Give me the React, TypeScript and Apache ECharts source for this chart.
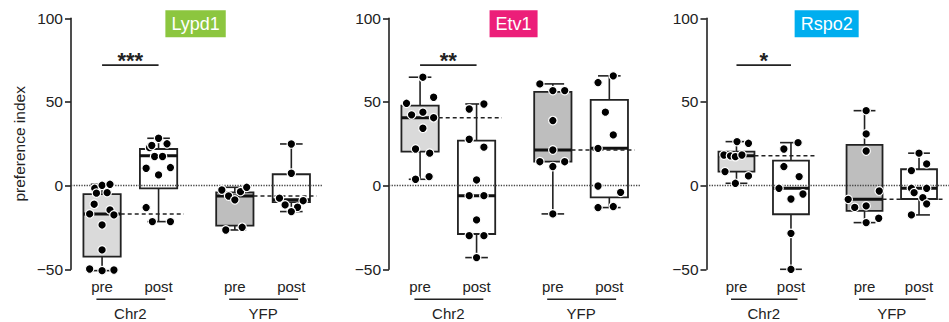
import React, { useEffect, useRef } from 'react';
import * as echarts from 'echarts';

// ---------- data ----------
const panelNames = ['Lypd1', 'Etv1', 'Rspo2'];
const significance = ['***', '**', '*'];
const conditionLabels = ['pre', 'post', 'pre', 'post'];
const cohortLabels = ['Chr2', 'YFP'];
const yTickMin = -50;
const yTickMax = 100;
const yTickStep = 50;
const yAxisTitle = 'preference index';

// box stats [min, q1, median, q3, max]; groups: Chr2 pre, Chr2 post, YFP pre, YFP post
const lypd1Boxes = [
  [-50.8, -42.4, -16.9, -5.1, 0.8],
  [-21.5, -1.6, 17.8, 21.9, 28.3],
  [-26.5, -23.9, -6.2, -4.0, -1.0],
  [-15.5, -9.9, -8.5, 6.8, 24.9],
];
const etv1Boxes = [
  [3.8, 20.3, 40.6, 47.8, 64.8],
  [-43.0, -28.9, -6.0, 26.9, 48.8],
  [-16.9, 14.3, 21.3, 56.0, 60.8],
  [-13.1, -7.0, 22.3, 51.2, 65.6],
];
const rspo2Boxes = [
  [1.4, 8.4, 17.8, 20.3, 26.3],
  [-50.0, -17.1, -1.6, 15.0, 25.7],
  [-22.1, -15.1, -8.2, 24.3, 44.8],
  [-17.5, -8.0, -1.6, 9.8, 19.4],
];

// individual animals (values) and their horizontal jitter (category units)
const lypd1Chr2Pre = [-1.6, 0.2, 0.8, -4.5, -4.2, -11.1, -16.9, -14.5, -17.5, -23.5, -38.4, -49.8, -50.8, -50.4];
const lypd1Chr2PreJit = [-0.13, 0.0, 0.14, -0.1, 0.09, -0.14, -0.22, 0.14, 0.21, 0.0, 0.0, -0.22, 0.0, 0.21];
const lypd1Chr2Post = [28.3, 22.7, 25.0, 24.0, 17.4, 17.4, 10.4, 10.8, 6.4, -13.1, -21.5, -21.5];
const lypd1Chr2PostJit = [0.0, -0.16, 0.15, -0.12, -0.07, 0.07, -0.22, 0.21, 0.0, -0.22, -0.11, 0.21];
const lypd1YfpPre = [-2.6, -6.2, -8.5, -3.6, -1.0, -26.5, -24.9];
const lypd1YfpPreJit = [-0.23, -0.11, 0.0, 0.1, 0.21, -0.16, 0.13];
const lypd1YfpPost = [24.9, 7.4, -7.5, -9.0, -11.5, -12.9, -15.5];
const lypd1YfpPostJit = [0.0, 0.0, -0.21, 0.21, -0.11, 0.11, 0.0];

const etv1Chr2Pre = [64.8, 52.8, 49.2, 42.3, 43.9, 40.6, 34.3, 21.9, 19.4, 3.8, 5.4];
const etv1Chr2PreJit = [0.05, 0.24, -0.24, -0.15, 0.05, 0.24, 0.05, -0.08, 0.17, -0.08, 0.16];
const etv1Chr2Post = [48.8, 45.8, 27.7, 23.0, 3.4, -6.0, -6.0, -20.5, -29.9, -29.9, -43.0];
const etv1Chr2PostJit = [0.13, -0.13, -0.13, 0.13, 0.0, -0.13, 0.13, 0.0, -0.13, 0.13, 0.0];
const etv1YfpPre = [60.8, 56.8, 56.8, 38.9, 21.3, 14.3, 11.4, 14.3, -16.9];
const etv1YfpPreJit = [-0.23, 0.0, 0.21, 0.0, 0.0, -0.23, 0.0, 0.21, 0.0];
const etv1YfpPost = [65.6, 61.6, 43.9, 30.3, 22.3, -0.2, -4.0, -13.1, -12.5];
const etv1YfpPostJit = [0.07, -0.2, -0.07, 0.07, -0.2, -0.2, 0.2, -0.2, 0.07];

const rspo2Chr2Pre = [26.3, 25.3, 18.3, 17.8, 17.3, 18.3, 8.4, 5.8, 1.4];
const rspo2Chr2PreJit = [0.01, 0.22, -0.23, -0.11, -0.02, 0.1, -0.21, 0.22, -0.02];
const rspo2Chr2Post = [25.7, 21.9, 11.4, 5.4, -1.6, -5.0, -8.0, -28.5, -50.0];
const rspo2Chr2PostJit = [0.13, -0.13, -0.13, 0.15, -0.22, 0.22, 0.0, 0.0, 0.0];
const rspo2YfpPre = [44.8, 30.9, 20.7, -3.2, -8.2, -13.0, -12.1, -22.1, -19.5];
const rspo2YfpPreJit = [0.03, 0.03, 0.03, 0.27, -0.3, -0.18, 0.03, 0.03, 0.26];
const rspo2YfpPost = [19.4, 13.0, 9.0, -1.6, -1.6, -4.2, -7.2, -10.9, -17.5];
const rspo2YfpPostJit = [0.0, 0.14, -0.14, -0.14, 0.14, -0.09, 0.07, 0.14, -0.14];

// ---------- layout / style ----------
const FONT = '"Liberation Sans", Arial, Helvetica, sans-serif';
const GROUP_X = [0.55, 1.55, 2.9, 3.9];
const X_MAX = 4.45;
const GRID_LEFTS = [71, 389, 706.5];
const GRID_W = 251.4;
const GRID_TOP = 18.3;
const GRID_H = 251;
const BOX_HALF = 0.33;
const CAP_HALF = 0.2;
const SIG_Y = 72;
const TITLE_COLORS = ['#8CC63F', '#EC1E79', '#00AEEF'];
const INK = '#222';

const panelBoxes = [lypd1Boxes, etv1Boxes, rspo2Boxes];
const panelPoints = [
  [[lypd1Chr2Pre, lypd1Chr2PreJit], [lypd1Chr2Post, lypd1Chr2PostJit], [lypd1YfpPre, lypd1YfpPreJit], [lypd1YfpPost, lypd1YfpPostJit]],
  [[etv1Chr2Pre, etv1Chr2PreJit], [etv1Chr2Post, etv1Chr2PostJit], [etv1YfpPre, etv1YfpPreJit], [etv1YfpPost, etv1YfpPostJit]],
  [[rspo2Chr2Pre, rspo2Chr2PreJit], [rspo2Chr2Post, rspo2Chr2PostJit], [rspo2YfpPre, rspo2YfpPreJit], [rspo2YfpPost, rspo2YfpPostJit]],
];

function buildOption() {
  const grid: any[] = [];
  const xAxis: any[] = [];
  const yAxis: any[] = [];
  const series: any[] = [];

  panelNames.forEach((name, p) => {
    grid.push({ left: GRID_LEFTS[p], top: GRID_TOP, width: GRID_W, height: GRID_H, containLabel: false });
    xAxis.push({ type: 'value', gridIndex: p, min: 0, max: X_MAX, show: false });
    yAxis.push({
      type: 'value', gridIndex: p, min: yTickMin, max: yTickMax, interval: yTickStep,
      name: p === 0 ? yAxisTitle : '', nameLocation: 'middle', nameGap: 44,
      nameTextStyle: { fontFamily: FONT, fontSize: 15.5, color: INK },
      axisLine: { show: true, lineStyle: { color: INK, width: 1.6 } },
      axisTick: { show: true, length: 6, lineStyle: { color: INK, width: 1.6 } },
      axisLabel: {
        fontFamily: FONT, fontSize: 15.5, color: INK, margin: 8,
        formatter: (v: number) => String(v).replace('-', '\u2212'),
      },
      splitLine: { show: false },
    });

    const boxes = panelBoxes[p];
    // boxes + whiskers
    series.push({
      type: 'custom', xAxisIndex: p, yAxisIndex: p, z: 2, silent: true, clip: false,
      data: boxes.map((b, g) => [GROUP_X[g], ...b]),
      encode: { x: 0, y: [1, 2, 3, 4, 5] },
      renderItem: (params: any, api: any) => {
        const x = api.value(0);
        const mn = api.value(1), q1 = api.value(2), md = api.value(3), q3 = api.value(4), mx = api.value(5);
        const g = params.dataIndex;
        const tl = api.coord([x - BOX_HALF, q3]);
        const br = api.coord([x + BOX_HALF, q1]);
        const c = api.coord([x, md]);
        const top = api.coord([x, mx]);
        const bot = api.coord([x, mn]);
        const capL = api.coord([x - CAP_HALF, 0])[0];
        const capR = api.coord([x + CAP_HALF, 0])[0];
        const fill = g === 0 ? '#dadada' : g === 2 ? '#bebebe' : '#ffffff';
        const ls = { stroke: INK, lineWidth: 1.6 };
        return {
          type: 'group',
          children: [
            { type: 'line', shape: { x1: c[0], y1: top[1], x2: c[0], y2: tl[1] }, style: ls },
            { type: 'line', shape: { x1: c[0], y1: br[1], x2: c[0], y2: bot[1] }, style: ls },
            { type: 'line', shape: { x1: capL, y1: top[1], x2: capR, y2: top[1] }, style: ls },
            { type: 'line', shape: { x1: capL, y1: bot[1], x2: capR, y2: bot[1] }, style: ls },
            {
              type: 'rect',
              shape: { x: tl[0], y: tl[1], width: br[0] - tl[0], height: br[1] - tl[1] },
              style: { fill, stroke: INK, lineWidth: 1.8 },
            },
            { type: 'line', shape: { x1: tl[0], y1: c[1], x2: br[0], y2: c[1] }, style: { stroke: '#111', lineWidth: 3 } },
          ],
        };
      },
      markLine: {
        silent: true, symbol: ['none', 'none'], z: 3,
        label: { show: false },
        lineStyle: { type: 'dotted', color: '#444', width: 1.3 },
        data: [{ yAxis: 0 }],
      },
    });

    // dashed reference lines at pre medians
    series.push({
      type: 'custom', xAxisIndex: p, yAxisIndex: p, z: 4, silent: true, clip: false,
      data: [[GROUP_X[0], boxes[0][2], GROUP_X[1]], [GROUP_X[2], boxes[2][2], GROUP_X[3]]],
      encode: { x: [0, 2], y: 1 },
      renderItem: (params: any, api: any) => {
        const a = api.coord([api.value(0) + BOX_HALF, api.value(1)]);
        const b = api.coord([api.value(2) + 0.45, api.value(1)]);
        return {
          type: 'line',
          shape: { x1: a[0], y1: a[1], x2: b[0], y2: b[1] },
          style: { stroke: INK, lineWidth: 1.5, lineDash: [4, 3] },
        };
      },
    });

    // individual points
    const pts: number[][] = [];
    panelPoints[p].forEach(([vals, jit], g) => {
      vals.forEach((v, i) => pts.push([GROUP_X[g] + jit[i], v]));
    });
    series.push({
      type: 'scatter', xAxisIndex: p, yAxisIndex: p, z: 6, silent: true, clip: false,
      symbol: 'circle', symbolSize: 8.5,
      itemStyle: { color: '#000', borderColor: '#fff', borderWidth: 1.2, opacity: 1 },
      data: pts,
    });

    // condition labels (pre / post)
    series.push({
      type: 'custom', xAxisIndex: p, yAxisIndex: p, z: 2, silent: true, clip: false,
      data: GROUP_X.map((x) => [x, yTickMin]),
      encode: { x: 0, y: 1 },
      renderItem: (params: any, api: any) => {
        const pt = api.coord([api.value(0), api.value(1)]);
        return {
          type: 'text', x: pt[0], y: pt[1] + 17.5,
          style: {
            text: conditionLabels[params.dataIndex], fill: INK, font: `15px ${FONT}`,
            align: 'center', verticalAlign: 'middle',
          },
        };
      },
    });

    // cohort underline + label
    series.push({
      type: 'custom', xAxisIndex: p, yAxisIndex: p, z: 2, silent: true, clip: false,
      data: [[GROUP_X[0], yTickMin, GROUP_X[1]], [GROUP_X[2], yTickMin, GROUP_X[3]]],
      encode: { x: [0, 2], y: 1 },
      renderItem: (params: any, api: any) => {
        const a = api.coord([api.value(0) - 0.1, api.value(1)]);
        const b = api.coord([api.value(2) + 0.12, api.value(1)]);
        const mid = api.coord([(api.value(0) + api.value(2)) / 2, api.value(1)]);
        return {
          type: 'group',
          children: [
            { type: 'line', shape: { x1: a[0], y1: a[1] + 30, x2: b[0], y2: b[1] + 30 }, style: { stroke: INK, lineWidth: 1.6 } },
            {
              type: 'text', x: mid[0], y: mid[1] + 44.5,
              style: {
                text: cohortLabels[params.dataIndex], fill: INK, font: `15px ${FONT}`,
                align: 'center', verticalAlign: 'middle',
              },
            },
          ],
        };
      },
    });

    // significance bar + title badge
    series.push({
      type: 'custom', xAxisIndex: p, yAxisIndex: p, z: 7, silent: true, clip: false,
      data: [[GROUP_X[0], SIG_Y, GROUP_X[1], GROUP_X[2]]],
      encode: { x: [0, 2], y: 1 },
      renderItem: (params: any, api: any) => {
        const a = api.coord([api.value(0), api.value(1)]);
        const b = api.coord([api.value(2), api.value(1)]);
        const t = api.coord([(api.value(2) + api.value(3)) / 2 - 0.02, yTickMax]);
        return {
          type: 'group',
          children: [
            { type: 'line', shape: { x1: a[0], y1: a[1], x2: b[0], y2: b[1] }, style: { stroke: INK, lineWidth: 1.6 } },
            {
              type: 'text', x: (a[0] + b[0]) / 2, y: a[1] + 6,
              style: {
                text: significance[p], fill: INK, font: `bold 22px ${FONT}`,
                align: 'center', verticalAlign: 'bottom',
              },
            },
            {
              type: 'text', x: t[0], y: t[1] + 5.5,
              style: {
                text: name, fill: '#ffffff', font: `18px ${FONT}`,
                align: 'center', verticalAlign: 'middle',
                backgroundColor: TITLE_COLORS[p], padding: [4, 6, 4, 6], lineHeight: 19,
              },
            },
          ],
        };
      },
    });
  });

  return {
    animation: false,
    backgroundColor: '#ffffff',
    textStyle: { fontFamily: FONT },
    grid, xAxis, yAxis, series,
  };
}

export default function App() {
  const ref = useRef<HTMLDivElement>(null);
  useEffect(() => {
    if (!ref.current) return;
    const chart = echarts.init(ref.current, undefined, { renderer: 'svg' });
    chart.setOption(buildOption() as any);
    return () => chart.dispose();
  }, []);
  return (
    <div
      ref={ref}
      style={{ position: 'fixed', left: 0, top: 0, width: 949, height: 322, background: '#fff' }}
    />
  );
}
